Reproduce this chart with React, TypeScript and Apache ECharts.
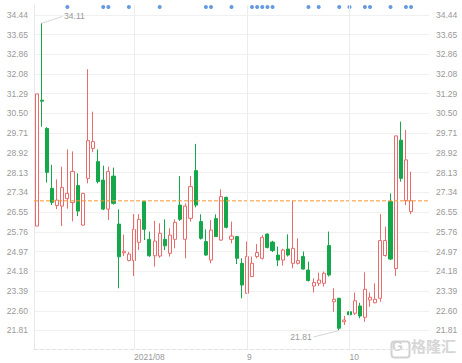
import React, { useEffect, useRef } from "react";
import * as echarts from "echarts";

const julyDays = [6, 7, 8, 9, 12, 13, 14, 15, 16, 19, 20, 21, 22, 23, 26, 27, 28, 29, 30];
const augDays = [2, 3, 4, 5, 6, 9, 10, 11, 12, 13, 16, 17, 18, 19, 20, 23, 24, 25, 26, 27, 30, 31];
const sepDays = [1, 2, 3, 6, 7, 8, 9, 10, 13, 14, 15, 16, 17, 22, 23, 24, 27, 28, 29, 30];
const octDays = [8, 11, 12, 13, 14, 15, 18, 19, 20, 21, 22, 25, 26, 27, 28, 29];

const pad = (d: number) => (d < 10 ? "0" + d : "" + d);
const categories: string[] = [
  ...julyDays.map((d) => `2021-07-${pad(d)}`),
  ...augDays.map((d) => `2021-08-${pad(d)}`),
  ...sepDays.map((d) => `2021-09-${pad(d)}`),
  ...octDays.map((d) => `2021-10-${pad(d)}`),
];

const opens = [
  25.99, 31.03, 29.9, 27.5, 26.81, 26.79, 27.09, 26.93, 27.61, 26.03,
  27.9, 29.1, 28.57, 27.83, 26.67, 27.99, 26.07, 24.92, 24.61, 24.61,
  25.34, 26.97, 25.46, 24.8, 24.79, 25.46, 24.9, 25.46, 26.83, 25.46,
  26.3, 28.21, 26.17, 25.37, 24.63, 26.29, 25.43, 27.14, 25.46, 25.57,
  24.5, 23.3, 23.97, 24.77, 24.7, 25.67, 25.35, 24.83, 24.63, 25.07,
  24.5, 24.5, 24.77, 24.23, 23.59, 23.7, 23.7, 25.21, 22.96, 23.1,
  22.16, 22.56, 22.5, 22.79, 22.34, 23.03, 22.92, 23.1, 24.81, 26.97,
  24.29, 29.43, 27.01, 26.57,
];
const closes = [
  31.28, 30.99, 28.14, 26.94, 27.03, 27.54, 27.3, 28.18, 26.59, 27.3,
  29.41, 29.37, 27.77, 26.67, 28.17, 26.9, 24.76, 24.98, 24.87, 25.86,
  26.26, 25.86, 24.8, 25.39, 25.7, 25.2, 25.63, 26.14, 26.26, 26.79,
  27.57, 26.83, 25.5, 24.83, 25.83, 25.57, 27.17, 25.94, 25.59, 24.7,
  23.63, 24.77, 24.5, 24.93, 25.54, 25.13, 25.01, 24.63, 25.03, 24.83,
  25.1, 24.61, 24.27, 23.81, 23.73, 23.83, 24.1, 24.03, 23.06, 21.9,
  22.23, 22.44, 23.0, 22.39, 23.46, 23.14, 23.06, 25.41, 25.41, 24.67,
  29.6, 27.9, 28.64, 27.0,
];
const lows = [
  25.99, 29.97, 27.73, 26.83, 26.67, 25.99, 26.69, 26.18, 26.39, 26.01,
  27.7, 28.95, 27.7, 26.63, 26.23, 26.85, 23.5, 24.79, 24.58, 23.99,
  25.03, 25.43, 24.76, 24.37, 24.72, 25.03, 24.77, 25.1, 26.2, 24.7,
  26.17, 26.74, 25.45, 24.8, 24.5, 25.55, 25.4, 25.9, 25.3, 24.47,
  23.1, 23.28, 23.95, 24.7, 24.65, 25.1, 24.95, 24.39, 24.41, 24.77,
  24.3, 24.45, 24.25, 23.77, 23.33, 23.59, 23.57, 23.97, 22.56, 21.81,
  22.03, 22.36, 22.43, 22.3, 22.16, 22.76, 22.9, 22.96, 24.77, 24.63,
  23.99, 27.77, 26.83, 26.47,
];
const highs = [
  31.28, 34.11, 29.95, 28.44, 27.86, 28.37, 29.06, 28.98, 28.1, 27.32,
  32.27, 30.57, 29.06, 28.41, 28.37, 28.33, 26.66, 25.65, 24.95, 26.47,
  26.47, 27.0, 25.77, 26.2, 26.1, 26.26, 25.9, 26.26, 27.99, 26.9,
  27.99, 29.28, 26.46, 25.86, 26.23, 26.46, 27.46, 27.17, 26.17, 25.6,
  24.7, 25.37, 24.77, 25.27, 25.63, 25.7, 25.4, 25.17, 25.08, 25.66,
  27.0, 25.5, 24.97, 24.57, 23.9, 24.13, 24.17, 25.77, 23.5, 23.12,
  22.39, 22.76, 23.33, 22.92, 24.14, 23.33, 23.7, 26.47, 25.97, 27.3,
  29.6, 30.17, 29.84, 28.17,
];

const eventIdx = [6, 13, 14, 18, 24, 33, 34, 38, 42, 43, 44, 45, 46, 53, 55, 59, 61, 64, 65, 69, 72, 73];

const yTickLabels = [
  "21.81", "22.60", "23.39", "24.18", "24.97", "25.76", "26.55", "27.34", "28.13",
  "28.92", "29.71", "30.50", "31.29", "32.08", "32.86", "33.65", "34.44",
];

const monthLabels: Record<string, string> = {
  "2021-08-02": "2021/08",
  "2021-09-01": "9",
  "2021-10-08": "10",
};

const lastPrice = 27.0;

export default function App() {
  const ref = useRef<HTMLDivElement>(null);
  useEffect(() => {
    if (!ref.current) return;
    const chart = echarts.init(ref.current, undefined, { renderer: "svg" });
    const tickVals = yTickLabels.map(Number);
    const yMin = 21.0694;
    const yMax = 34.8403;
    const font = "Liberation Sans, Arial, sans-serif";
    const candleData = opens.map((o, i) => [o, closes[i], lows[i], highs[i]]);
    let hiIdx = 0;
    let loIdx = 0;
    highs.forEach((h, i) => { if (h > highs[hiIdx]) hiIdx = i; });
    lows.forEach((l, i) => { if (l < lows[loIdx]) loIdx = i; });
    const monthCats = Object.keys(monthLabels);

    const yAxisBase = {
      type: "value",
      min: yMin,
      max: yMax,
      scale: true,
      axisTick: { show: false, customValues: tickVals },
      axisLabel: {
        customValues: tickVals,
        formatter: (v: number) => v.toFixed(2),
        fontSize: 8.5,
        color: "#999",
        fontFamily: font,
      },
    };

    const priceLabel = {
      show: true,
      formatter: lastPrice.toFixed(2),
      color: "#4a84c9",
      backgroundColor: "#dce9f8",
      fontSize: 8.5,
      fontFamily: font,
    };

    const extremeLabel = {
      show: true,
      position: "end",
      color: "#999",
      distance: 2,
      fontSize: 8.5,
      fontFamily: font,
    };

    const orange = "#f5962e";

    chart.setOption({
      animation: false,
      backgroundColor: "#fff",
      grid: { left: 34, right: 33, top: 5, bottom: 14 },
      xAxis: [
        {
          type: "category",
          data: categories,
          boundaryGap: true,
          axisLine: { show: true, lineStyle: { color: "#e3e3e3", type: "dashed" } },
          axisTick: { show: false },
          splitLine: { show: false },
          axisLabel: {
            interval: (idx: number, val: string) => !!monthLabels[val],
            formatter: (val: string) => monthLabels[val] || "",
            align: "left",
            margin: 3,
            fontSize: 8.5,
            color: "#999",
            fontFamily: font,
          },
        },
        { type: "value", min: 0, max: 1, show: false },
      ],
      yAxis: [
        {
          ...yAxisBase,
          position: "left",
          axisLine: { show: true, lineStyle: { color: "#e8e8e8" } },
          splitLine: { show: true, lineStyle: { color: "#f0f0f0" } },
          axisLabel: { ...yAxisBase.axisLabel, margin: 6 },
        },
        {
          ...yAxisBase,
          position: "right",
          axisLine: { show: false },
          splitLine: { show: false },
          axisLabel: { ...yAxisBase.axisLabel, margin: 7 },
        },
      ],
      series: [
        {
          type: "line",
          data: [],
          z: 1,
          silent: true,
          markLine: {
            silent: true,
            symbol: ["none", "none"],
            label: { show: false },
            lineStyle: { color: "#ececec", type: "solid", width: 1 },
            data: monthCats.map((c) => ({ xAxis: c })),
          },
        },
        {
          type: "line",
          xAxisIndex: 1,
          yAxisIndex: 0,
          data: [[0, lastPrice], [1, lastPrice]],
          showSymbol: false,
          symbol: "none",
          z: 4,
          silent: true,
          lineStyle: { color: orange, type: [4, 2], width: 1 },
          itemStyle: { color: orange },
          markLine: {
            silent: true,
            symbol: ["none", "none"],
            lineStyle: { opacity: 0 },
            data: [
              { yAxis: lastPrice, label: { ...priceLabel, position: "start", padding: [2, 6, 2, 5], distance: 1 } },
              { yAxis: lastPrice, label: { ...priceLabel, position: "end", padding: [2, 8, 2, 6], distance: 2 } },
            ],
          },
        },
        {
          type: "candlestick",
          data: candleData,
          z: 2,
          barWidth: 3.6,
          itemStyle: {
            color: "#ffffff",
            color0: "#15a84b",
            borderColor: "#ea6b6b",
            borderColor0: "#15a84b",
            borderWidth: 1,
          },
          markLine: {
            silent: true,
            symbol: ["none", "none"],
            lineStyle: { color: "#d6d6d6", type: "solid", width: 1, curveness: -0.2 },
            data: [
              [
                { coord: [categories[hiIdx], highs[hiIdx]] },
                {
                  coord: [categories[hiIdx + 4], highs[hiIdx] + 0.27],
                  label: { ...extremeLabel, formatter: highs[hiIdx].toFixed(2) },
                },
              ],
              [
                { coord: [categories[loIdx], lows[loIdx]] },
                {
                  coord: [categories[loIdx - 5], lows[loIdx] - 0.26],
                  label: { ...extremeLabel, formatter: lows[loIdx].toFixed(2) },
                },
              ],
            ],
          },
        },
        {
          type: "scatter",
          data: eventIdx.map((i) => [categories[i], 34.76]),
          symbolSize: 4,
          itemStyle: { color: "#3f80d8" },
          z: 3,
          silent: true,
        },
      ],
      graphic: [
        {
          type: "rect",
          left: 389,
          top: 339,
          shape: { width: 18, height: 16, r: 3 },
          style: { fill: "none", stroke: "#d2d2d2", lineWidth: 2 },
          silent: true,
        },
        {
          type: "text",
          left: 392,
          top: 339,
          style: { text: "G", fontSize: 14, fontWeight: "bold", fill: "#d2d2d2", fontFamily: font },
          silent: true,
        },
        {
          type: "text",
          left: 411,
          top: 338,
          style: {
            text: "格隆汇",
            fontSize: 15,
            fontWeight: "bold",
            fill: "#d6d6d6",
            fontFamily: "Noto Sans CJK SC",
          },
          silent: true,
        },
      ],
    });
    return () => chart.dispose();
  }, []);
  return (
    <div
      ref={ref}
      style={{ position: "fixed", left: 0, top: 0, width: 462, height: 363, background: "#fff" }}
    />
  );
}
